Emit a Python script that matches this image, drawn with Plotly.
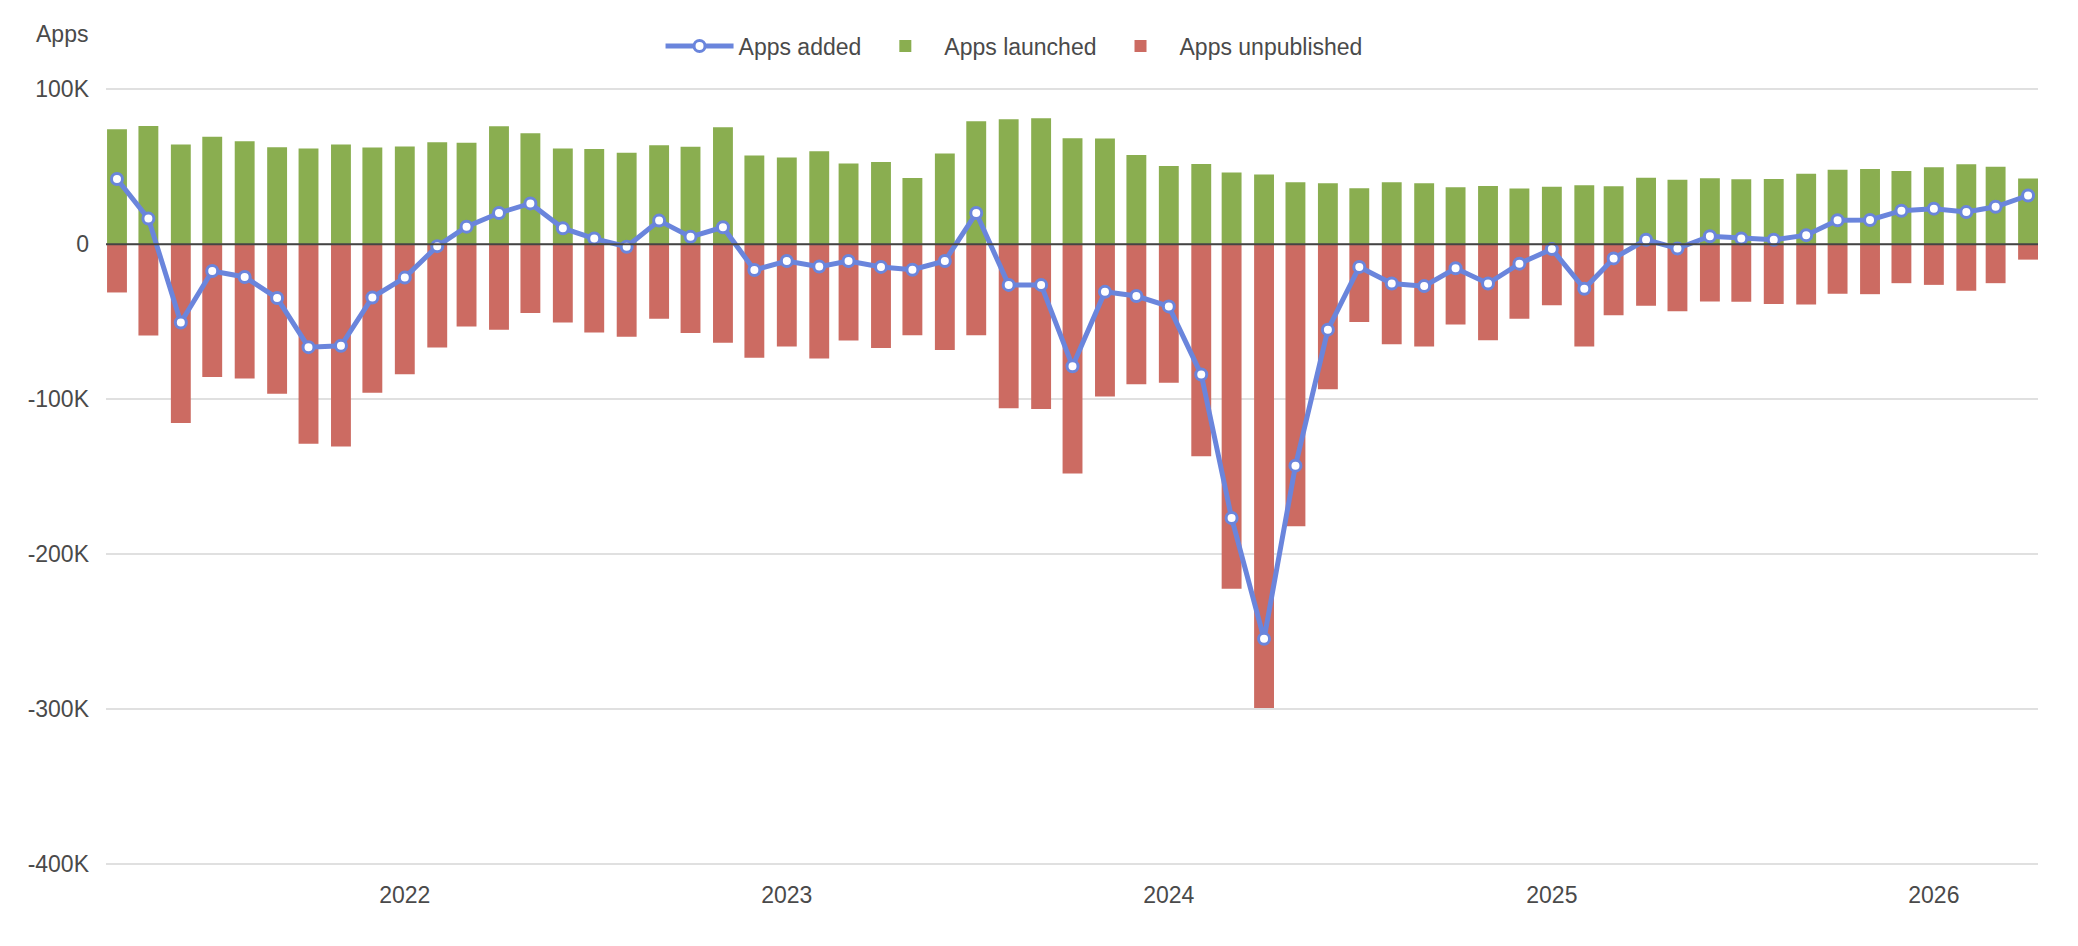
import plotly.graph_objects as go
import pandas as pd

# Monthly categories: April 2021 .. April 2026
months = pd.date_range("2021-04-01", periods=61, freq="MS")

# Values in thousands of apps
apps_launched_k = [
    74.1, 76.3, 64.3, 69.4, 66.5, 62.6, 61.8, 64.3, 62.4, 63.0, 65.8, 65.4,
    76.1, 71.6, 61.8, 61.5, 59.0, 63.8, 62.8, 75.4, 57.3, 56.0, 60.0, 52.1,
    53.0, 42.7, 58.5, 79.3, 80.6, 81.2, 68.4, 68.2, 57.5, 50.4, 51.7, 46.2,
    44.9, 40.0, 39.3, 36.1, 40.0, 39.3, 36.8, 37.6, 35.9, 37.0, 38.0, 37.4,
    42.9, 41.5, 42.5, 41.9, 42.1, 45.5, 48.1, 48.5, 47.2, 49.6, 51.5, 50.0,
    42.3,
]
apps_unpublished_k = [
    -31.2, -59.0, -115.5, -85.7, -86.8, -96.6, -128.8, -130.6, -95.9, -84.0, -66.7, -53.2,
    -55.3, -44.4, -50.6, -57.1, -59.8, -48.1, -57.4, -63.7, -73.3, -66.0, -73.9, -62.2,
    -67.1, -58.8, -68.4, -58.8, -106.0, -106.4, -148.0, -98.3, -90.4, -89.5, -136.9, -222.5,
    -299.5, -182.1, -93.6, -50.2, -64.7, -66.0, -51.9, -62.0, -48.1, -39.5, -66.0, -45.9,
    -39.7, -43.4, -37.0, -37.2, -38.7, -38.9, -32.1, -32.3, -25.2, -26.3, -30.1, -25.2,
    -10.0,
]
apps_added_k = [
    42.1, 16.5, -50.6, -17.3, -21.2, -34.8, -66.5, -65.6, -34.4, -21.6, -1.3, 11.3,
    20.1, 26.3, 10.3, 3.6, -1.7, 15.2, 4.7, 10.9, -16.7, -10.9, -14.5, -10.9,
    -14.7, -16.5, -10.9, 20.1, -26.3, -26.3, -78.8, -30.8, -33.5, -40.2, -84.2, -176.8,
    -254.8, -143.0, -55.2, -14.7, -25.4, -27.1, -15.6, -25.4, -12.6, -3.2, -28.8, -9.2,
    2.8, -2.8, 5.1, 3.6, 2.8, 5.8, 15.4, 15.6, 21.6, 22.9, 20.7, 24.1,
    31.4,
]

y_tick_vals = [-400000, -300000, -200000, -100000, 0, 100000]
y_tick_text = ["-400K", "-300K", "-200K", "-100K", "0", "100K"]

launched = [v * 1000 for v in apps_launched_k]
unpublished = [v * 1000 for v in apps_unpublished_k]
added = [v * 1000 for v in apps_added_k]

FONT = "Liberation Sans, Arial, Helvetica, sans-serif"
TEXT = "#4a4a4a"
BLUE = "#6a85dc"
GREEN = "#8aae50"
RED = "#cc6b62"
DAY_MS = 86400000
bar_w = 19 * DAY_MS

fig = go.Figure()
fig.add_trace(go.Scatter(
    x=months, y=added, name="Apps added", mode="lines+markers",
    line=dict(color=BLUE, width=5),
    marker=dict(size=11, color="white", line=dict(color=BLUE, width=3)),
))
fig.add_trace(go.Bar(
    x=months, y=launched, name="Apps launched",
    marker=dict(color=GREEN, line=dict(width=0)), width=bar_w,
))
fig.add_trace(go.Bar(
    x=months, y=unpublished, name="Apps unpublished",
    marker=dict(color=RED, line=dict(width=0)), width=bar_w,
))

fig.update_layout(
    width=2078, height=946,
    margin=dict(l=106, r=40, t=88, b=81, pad=0),
    paper_bgcolor="white", plot_bgcolor="white",
    barmode="relative",
    font=dict(family=FONT, size=23, color=TEXT),
    showlegend=True,
    legend=dict(
        orientation="h", x=0.470, xanchor="center", y=1.054, yanchor="middle",
        font=dict(family=FONT, size=23, color=TEXT),
        traceorder="normal", itemwidth=68, bgcolor="rgba(0,0,0,0)",
    ),
    xaxis=dict(
        type="date",
        range=["2021-03-21 12:00", "2026-04-10 12:00"],
        tick0="2022-01-01", dtick="M12", tickformat="%Y",
        showgrid=False, zeroline=False, showline=False, ticks="",
        tickfont=dict(family=FONT, size=23, color=TEXT),
        ticklabelstandoff=14,
    ),
    yaxis=dict(
        range=[-400800, 100800],
        tickvals=y_tick_vals, ticktext=y_tick_text,
        showgrid=True, gridcolor="#e0e0e0", gridwidth=1.5,
        zeroline=False, showline=False, ticks="",
        tickfont=dict(family=FONT, size=23, color=TEXT),
        ticklabelstandoff=16,
    ),
    annotations=[dict(
        text="Apps", xref="paper", yref="paper",
        x=-0.0373, y=1.0694, xanchor="left", yanchor="middle",
        showarrow=False, font=dict(family=FONT, size=23, color=TEXT),
    )],
    shapes=[dict(
        type="line", xref="paper", yref="y", x0=0, x1=1, y0=0, y1=0,
        line=dict(color="#444444", width=2), layer="above",
    )],
)

fig.write_html("out.html")
